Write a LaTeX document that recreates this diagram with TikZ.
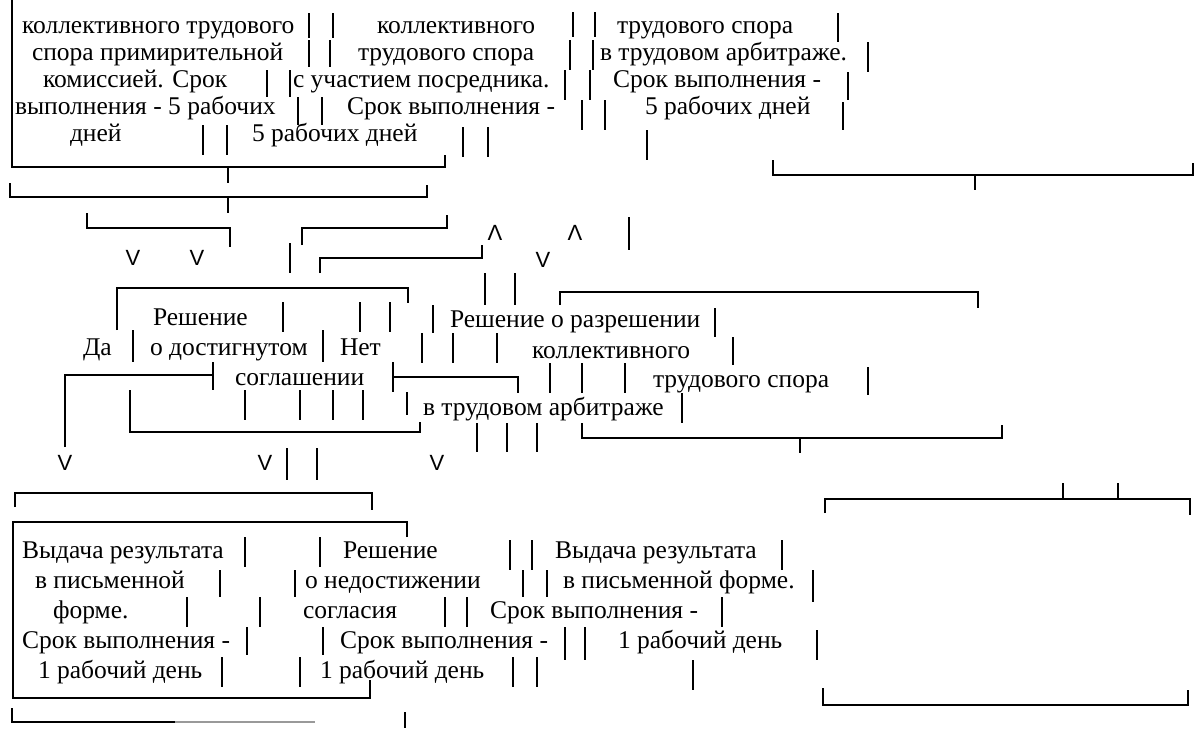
\documentclass[tikz,border=0pt]{standalone}
\usepackage{fontspec}
\setmainfont{Liberation Serif}
\newfontfamily\vfont{Liberation Sans}
\newcommand\pbar[3]{\draw[barln] (#1,#2) -- (#1,#3);}
\begin{document}
\begin{tikzpicture}[x=1pt,y=-1pt,
  txt/.style={anchor=base west,inner sep=0pt,outer sep=0pt,font=\fontsize{25.5}{30}\selectfont},
  arr/.style={anchor=center,inner sep=0pt,font=\vfont\fontsize{22}{26}\selectfont},
  ln/.style={line width=2pt,line join=miter},
  barln/.style={line width=2.4pt}]
\useasboundingbox[fill=white] (0,0) rectangle (1201,728);

% ---------- top ----------
\node[txt] (a1) at (22,33) {коллективного трудового};
\node[txt] (a2) at (32,60) {спора примирительной};
\node[txt] (a3) at (43,87) {комиссией. Срок};
\node[txt] (a4) at (15,114) {выполнения - 5 рабочих};
\node[txt] (a5) at (70,141) {дней};
\pbar{309}{13}{38} \pbar{333}{13}{38}
\pbar{309}{40}{67} \pbar{330}{40}{67}
\pbar{267}{70}{97} \pbar{290}{70}{97}
\pbar{298}{97}{125} \pbar{322}{97}{125}
\pbar{203}{125}{155} \pbar{227}{125}{155}

\node[txt] (b1) at (377,33) {коллективного};
\node[txt] (b2) at (358,60) {трудового спора};
\node[txt] (b3) at (293,87) {с участием посредника.};
\node[txt] (b4) at (347,114) {Срок выполнения -};
\node[txt] (b5) at (252,141) {5 рабочих дней};
\pbar{573}{12}{37} \pbar{595}{12}{37}
\pbar{570}{40}{70} \pbar{593}{40}{70}
\pbar{565}{70}{100} \pbar{590}{70}{100}
\pbar{582}{100}{130} \pbar{605}{100}{130}
\pbar{463}{127}{157} \pbar{488}{127}{157}

\node[txt] (c1) at (617,33) {трудового спора};
\node[txt] (c2) at (600,60) {в трудовом арбитраже.};
\node[txt] (c3) at (613,87) {Срок выполнения -};
\node[txt] (c4) at (645,114) {5 рабочих дней};
\pbar{838}{13}{42} \pbar{868}{42}{72} \pbar{848}{72}{100} \pbar{843}{102}{130}
\pbar{647}{130}{160}

\draw[ln] (12,0) -- (12,167) -- (445,167) -- (445,155);
\draw[ln] (228,167) -- (228,183);
\draw[ln] (10,183) -- (10,197) -- (427,197) -- (427,185);
\draw[ln] (228,197) -- (228,213);
\draw[ln] (87,213) -- (87,228) -- (230,228) -- (230,247);
\draw[ln] (302,245) -- (302,228) -- (447,228) -- (447,215);
\draw[ln] (773,160) -- (773,175) -- (1193,175) -- (1193,163);
\draw[ln] (975,175) -- (975,190);

% ---------- middle ----------
\node[arr] (v1) at (133,258) {V};
\node[arr] (v2) at (197,258) {V};
\node[arr] (u1) at (495,233) {Λ};
\node[arr] (u2) at (575,233) {Λ};
\node[arr] (v3) at (543,260) {V};
\pbar{629}{217}{250}
\pbar{290}{243}{273}
\draw[ln] (320,273) -- (320,258) -- (482,258) -- (482,245);
\pbar{485}{273}{305} \pbar{515}{273}{305}
\draw[ln] (117,330) -- (117,288) -- (408,288) -- (408,303);
\draw[ln] (560,305) -- (560,292) -- (978,292) -- (978,308);

\node[txt] (m1) at (153,325) {Решение};
\node[txt] (m2) at (83,355) {Да};
\node[txt] (m3) at (150,355) {о достигнутом};
\node[txt] (m4) at (340,355) {Нет};
\node[txt] (m5) at (235,385) {соглашении};
\node[txt] (n1) at (450,327) {Решение о разрешении};
\node[txt] (n2) at (532,358) {коллективного};
\node[txt] (n3) at (653,387) {трудового спора};
\node[txt] (n4) at (423,415) {в трудовом арбитраже};

\pbar{283}{302}{332} \pbar{360}{302}{332} \pbar{390}{302}{332}
\pbar{433}{305}{333} \pbar{715}{308}{337}
\pbar{133}{330}{362} \pbar{323}{330}{362}
\pbar{422}{333}{363} \pbar{453}{333}{363} \pbar{497}{333}{363}
\pbar{733}{337}{365}
\draw[ln] (65,447) -- (65,375) -- (213,375);
\draw[ln] (213,362) -- (213,390);
\draw[ln] (393,362) -- (393,392);
\draw[ln] (393,377) -- (518,377) -- (518,393);
\pbar{550}{363}{393} \pbar{582}{363}{393} \pbar{625}{363}{393}
\pbar{868}{367}{395}
\draw[ln] (130,390) -- (130,432) -- (420,432) -- (420,422);
\pbar{245}{390}{420} \pbar{300}{390}{420} \pbar{333}{390}{420} \pbar{363}{390}{420}
\pbar{407}{392}{415}
\pbar{682}{393}{423}
\draw[ln] (582,423) -- (582,438) -- (1002,438) -- (1002,425);
\draw[ln] (800,438) -- (800,453);
\pbar{477}{423}{452} \pbar{507}{423}{452} \pbar{537}{423}{452}
\node[arr] (v4) at (65,463) {V};
\node[arr] (v5) at (265,463) {V};
\node[arr] (v6) at (437,463) {V};
\pbar{287}{448}{480} \pbar{317}{448}{480}
\pbar{1063}{483}{499} \pbar{1118}{483}{499}
\draw[ln] (825,513) -- (825,499) -- (1190,499) -- (1190,515);

% ---------- bottom ----------
\draw[ln] (15,507) -- (15,493) -- (372,493) -- (372,510);
\draw[ln] (407,537) -- (407,522) -- (13,522) -- (13,698) -- (370,698) -- (370,680);

\node[txt] (d1) at (22,558) {Выдача результата};
\node[txt] (d2) at (35,588) {в письменной};
\node[txt] (d3) at (53,618) {форме.};
\node[txt] (d4) at (22,648) {Срок выполнения -};
\node[txt] (d5) at (38,678) {1 рабочий день};
\pbar{245}{537}{567} \pbar{320}{537}{567}
\pbar{220}{570}{597} \pbar{295}{570}{597}
\pbar{187}{597}{627} \pbar{260}{597}{627}
\pbar{247}{627}{655} \pbar{323}{627}{655}
\pbar{222}{657}{687} \pbar{300}{657}{687}

\node[txt] (e1) at (343,558) {Решение};
\node[txt] (e2) at (305,588) {о недостижении};
\node[txt] (e3) at (303,618) {согласия};
\node[txt] (e4) at (340,648) {Срок выполнения -};
\node[txt] (e5) at (320,678) {1 рабочий день};
\pbar{510}{540}{570} \pbar{532}{540}{570}
\pbar{523}{570}{597} \pbar{547}{570}{597}
\pbar{445}{597}{627} \pbar{467}{597}{627}
\pbar{565}{627}{660} \pbar{585}{627}{660}
\pbar{513}{657}{687} \pbar{537}{657}{687}

\node[txt] (f1) at (555,558) {Выдача результата};
\node[txt] (f2) at (563,588) {в письменной форме.};
\node[txt] (f3) at (490,618) {Срок выполнения -};
\node[txt] (f4) at (618,648) {1 рабочий день};
\pbar{782}{540}{570} \pbar{813}{570}{602} \pbar{722}{597}{627}
\pbar{817}{630}{660} \pbar{693}{660}{690}

\draw[ln] (823,688) -- (823,705) -- (1188,705) -- (1188,690);
\draw[ln] (12,708) -- (12,722) -- (175,722);
\draw[ln,black!40] (175,722) -- (315,722);
\pbar{405}{712}{728}
\end{tikzpicture}
\end{document}
